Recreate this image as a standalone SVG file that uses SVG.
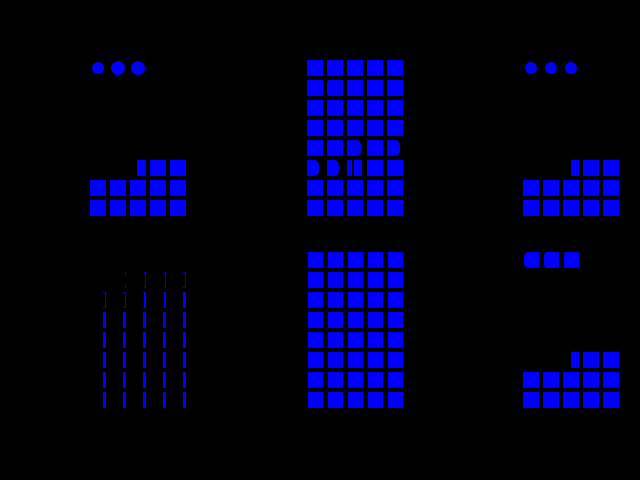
<svg xmlns="http://www.w3.org/2000/svg" width="640" height="480" viewBox="0 0 640 480">
<style>
.b{fill:#0000ff}
.s{fill:none;stroke:#0000ff;stroke-width:1}
</style>
<rect width="640" height="480" fill="#000"/>
<g id="panel-top-left">
<circle class="b" cx="98" cy="68" r="6"/>
<circle class="b" cx="118" cy="68" r="7"/>
<circle class="b" cx="138" cy="68" r="7"/>
<rect class="b" x="145" y="60" width="1" height="1"/>
<rect class="b" x="145" y="75" width="1" height="1"/>
<rect class="b" x="137" y="160" width="9" height="16"/>
<rect class="b" x="150" y="160" width="16" height="16"/>
<rect class="b" x="170" y="160" width="16" height="16"/>
<rect class="b" x="90" y="180" width="16" height="16"/>
<rect class="b" x="110" y="180" width="16" height="16"/>
<rect class="b" x="130" y="180" width="16" height="16"/>
<rect class="b" x="150" y="180" width="16" height="16"/>
<rect class="b" x="170" y="180" width="16" height="16"/>
<rect class="b" x="90" y="200" width="16" height="16"/>
<rect class="b" x="110" y="200" width="16" height="16"/>
<rect class="b" x="130" y="200" width="16" height="16"/>
<rect class="b" x="150" y="200" width="16" height="16"/>
<rect class="b" x="170" y="200" width="16" height="16"/>
</g>
<g id="panel-top-middle">
<rect class="b" x="307" y="60" width="16" height="16"/><rect class="b" x="327" y="60" width="16" height="16"/><rect class="b" x="347" y="60" width="16" height="16"/><rect class="b" x="367" y="60" width="16" height="16"/><rect class="b" x="387" y="60" width="16" height="16"/>
<rect class="b" x="307" y="80" width="16" height="16"/><path class="b" d="M330,80h13v16h-13a3,3 0 0 1 -3,-3v-10a3,3 0 0 1 3,-3z"/><rect class="b" x="347" y="80" width="16" height="16"/><rect class="b" x="367" y="80" width="16" height="16"/><rect class="b" x="387" y="80" width="16" height="16"/>
<rect class="b" x="307" y="100" width="16" height="16"/><rect class="b" x="327" y="100" width="16" height="16"/><rect class="b" x="347" y="100" width="16" height="16"/><rect class="b" x="367" y="100" width="16" height="16"/><rect class="b" x="387" y="100" width="16" height="16"/>
<rect class="b" x="307" y="120" width="16" height="16"/><rect class="b" x="327" y="120" width="16" height="16"/><rect class="b" x="347" y="120" width="16" height="16"/><rect class="b" x="367" y="120" width="16" height="16"/><rect class="b" x="387" y="120" width="16" height="16"/>
<rect class="b" x="307" y="140" width="16" height="16"/><rect class="b" x="327" y="140" width="16" height="16"/><path class="b" d="M347,140h9a5,5 0 0 1 5,5v6a5,5 0 0 1 -5,5h-9z"/><rect class="b" x="367" y="140" width="16" height="16"/><path class="b" d="M387,140h8a5,5 0 0 1 5,5v6a5,5 0 0 1 -5,5h-8z"/>
<path class="b" d="M307,160h7a5,5 0 0 1 5,5v6a5,5 0 0 1 -5,5h-7z"/><path class="b" d="M327,160h7a5,5 0 0 1 5,5v6a5,5 0 0 1 -5,5h-7z"/><rect class="b" x="347" y="160" width="5" height="16"/><rect class="b" x="354" y="160" width="8" height="16"/><rect class="b" x="367" y="160" width="16" height="16"/><rect class="b" x="387" y="160" width="16" height="16"/>
<rect class="b" x="307" y="180" width="16" height="16"/><rect class="b" x="327" y="180" width="16" height="16"/><rect class="b" x="347" y="180" width="16" height="16"/><rect class="b" x="367" y="180" width="16" height="16"/><rect class="b" x="387" y="180" width="16" height="16"/>
<rect class="b" x="307" y="200" width="16" height="16"/><rect class="b" x="327" y="200" width="16" height="16"/><rect class="b" x="347" y="200" width="16" height="16"/><rect class="b" x="367" y="200" width="16" height="16"/><rect class="b" x="387" y="200" width="16" height="16"/>
</g>
<g id="panel-top-right">
<circle class="b" cx="531" cy="68" r="6"/>
<circle class="b" cx="551" cy="68" r="6"/>
<circle class="b" cx="571" cy="68" r="6"/>
<rect class="b" x="571" y="160" width="8" height="16"/>
<rect class="b" x="583" y="160" width="16" height="16"/>
<rect class="b" x="603" y="160" width="16" height="16"/>
<rect class="b" x="523" y="180" width="16" height="16"/><rect class="b" x="543" y="180" width="16" height="16"/><rect class="b" x="563" y="180" width="16" height="16"/><rect class="b" x="583" y="180" width="16" height="16"/><rect class="b" x="603" y="180" width="16" height="16"/>
<rect class="b" x="523" y="200" width="16" height="16"/><rect class="b" x="543" y="200" width="16" height="16"/><rect class="b" x="563" y="200" width="16" height="16"/><rect class="b" x="583" y="200" width="16" height="16"/><rect class="b" x="603" y="200" width="16" height="16"/>
</g>
<g id="panel-bottom-left">
<path class="s" d="M125.5,272v3M125.5,285v3"/>
<path class="s" d="M144,272.5h1.5v15h-1.5"/>
<path class="s" d="M164,272.5h1.5v15h-1.5"/>
<path class="s" d="M183,272.5h2.5v15h-2.5"/>
<rect class="b" x="185" y="273" width="1" height="14"/>
<path class="s" d="M103,292.5h2.5v15h-2.5"/><rect class="b" x="105" y="293" width="1" height="14"/>
<path class="s" d="M123,292.5h2.5v15h-2.5"/><rect class="b" x="125" y="293" width="1" height="14"/>
<path class="s" d="M143,292.5h2.5v15h-2.5"/><rect class="b" x="144" y="293" width="2" height="14"/>
<path class="s" d="M163,292.5h2.5v15h-2.5"/><rect class="b" x="164" y="293" width="2" height="14"/>
<rect class="b" x="183" y="292" width="3" height="16"/>
<rect class="b" x="103" y="312" width="3" height="16"/><rect class="b" x="123" y="312" width="3" height="16"/><rect class="b" x="143" y="312" width="3" height="16"/><rect class="b" x="163" y="312" width="3" height="16"/><rect class="b" x="183" y="312" width="3" height="16"/>
<rect class="b" x="103" y="332" width="3" height="16"/><rect class="b" x="123" y="332" width="3" height="16"/><rect class="b" x="143" y="332" width="3" height="16"/><rect class="b" x="163" y="332" width="3" height="16"/><rect class="b" x="183" y="332" width="3" height="16"/>
<rect class="b" x="103" y="352" width="3" height="16"/><rect class="b" x="123" y="352" width="3" height="16"/><rect class="b" x="143" y="352" width="3" height="16"/><rect class="b" x="163" y="352" width="3" height="16"/><rect class="b" x="183" y="352" width="3" height="16"/>
<rect class="b" x="103" y="372" width="3" height="16"/><rect class="b" x="123" y="372" width="3" height="16"/><rect class="b" x="143" y="372" width="3" height="16"/><rect class="b" x="163" y="372" width="3" height="16"/><rect class="b" x="183" y="372" width="3" height="16"/>
<rect class="b" x="103" y="392" width="3" height="16"/><rect class="b" x="123" y="392" width="3" height="16"/><rect class="b" x="143" y="392" width="3" height="16"/><rect class="b" x="163" y="392" width="3" height="16"/><rect class="b" x="183" y="392" width="3" height="16"/>
</g>
<g id="panel-bottom-middle">
<rect class="b" x="308" y="252" width="15" height="16"/><rect class="b" x="328" y="252" width="15" height="16"/><rect class="b" x="348" y="252" width="15" height="16"/><rect class="b" x="368" y="252" width="15" height="16"/><rect class="b" x="388" y="252" width="15" height="16"/>
<rect class="b" x="308" y="272" width="15" height="16"/><rect class="b" x="328" y="272" width="15" height="16"/><rect class="b" x="348" y="272" width="15" height="16"/><rect class="b" x="368" y="272" width="15" height="16"/><rect class="b" x="388" y="272" width="15" height="16"/>
<rect class="b" x="308" y="292" width="15" height="16"/><rect class="b" x="328" y="292" width="15" height="16"/><rect class="b" x="348" y="292" width="15" height="16"/><rect class="b" x="368" y="292" width="15" height="16"/><rect class="b" x="388" y="292" width="15" height="16"/>
<rect class="b" x="308" y="312" width="15" height="16"/><rect class="b" x="328" y="312" width="15" height="16"/><rect class="b" x="348" y="312" width="15" height="16"/><rect class="b" x="368" y="312" width="15" height="16"/><rect class="b" x="388" y="312" width="15" height="16"/>
<rect class="b" x="308" y="332" width="15" height="16"/><rect class="b" x="328" y="332" width="15" height="16"/><rect class="b" x="348" y="332" width="15" height="16"/><rect class="b" x="368" y="332" width="15" height="16"/><rect class="b" x="388" y="332" width="15" height="16"/>
<rect class="b" x="308" y="352" width="15" height="16"/><rect class="b" x="328" y="352" width="15" height="16"/><rect class="b" x="348" y="352" width="15" height="16"/><rect class="b" x="368" y="352" width="15" height="16"/><rect class="b" x="388" y="352" width="15" height="16"/>
<rect class="b" x="308" y="372" width="15" height="16"/><rect class="b" x="328" y="372" width="15" height="16"/><rect class="b" x="348" y="372" width="15" height="16"/><rect class="b" x="368" y="372" width="15" height="16"/><rect class="b" x="388" y="372" width="15" height="16"/>
<rect class="b" x="308" y="392" width="15" height="16"/><rect class="b" x="328" y="392" width="15" height="16"/><rect class="b" x="348" y="392" width="15" height="16"/><rect class="b" x="368" y="392" width="15" height="16"/><rect class="b" x="388" y="392" width="15" height="16"/>
</g>
<g id="panel-bottom-right">
<path class="b" d="M529,252h10v16h-10a5,5 0 0 1 -5,-5v-6a5,5 0 0 1 5,-5z"/>
<path class="b" d="M548,252h11v16h-11a4,4 0 0 1 -4,-4v-8a4,4 0 0 1 4,-4z"/>
<path class="b" d="M566,252h13v16h-15v-14a2,2 0 0 1 2,-2z"/>
<rect class="b" x="571" y="352" width="8" height="16"/>
<rect class="b" x="583" y="352" width="16" height="16"/>
<rect class="b" x="603" y="352" width="16" height="16"/>
<rect class="b" x="523" y="372" width="16" height="16"/><rect class="b" x="543" y="372" width="16" height="16"/><rect class="b" x="563" y="372" width="16" height="16"/><rect class="b" x="583" y="372" width="16" height="16"/><rect class="b" x="603" y="372" width="16" height="16"/>
<rect class="b" x="523" y="392" width="16" height="16"/><rect class="b" x="543" y="392" width="16" height="16"/><rect class="b" x="563" y="392" width="16" height="16"/><rect class="b" x="583" y="392" width="16" height="16"/><rect class="b" x="603" y="392" width="16" height="16"/>
</g>
</svg>
